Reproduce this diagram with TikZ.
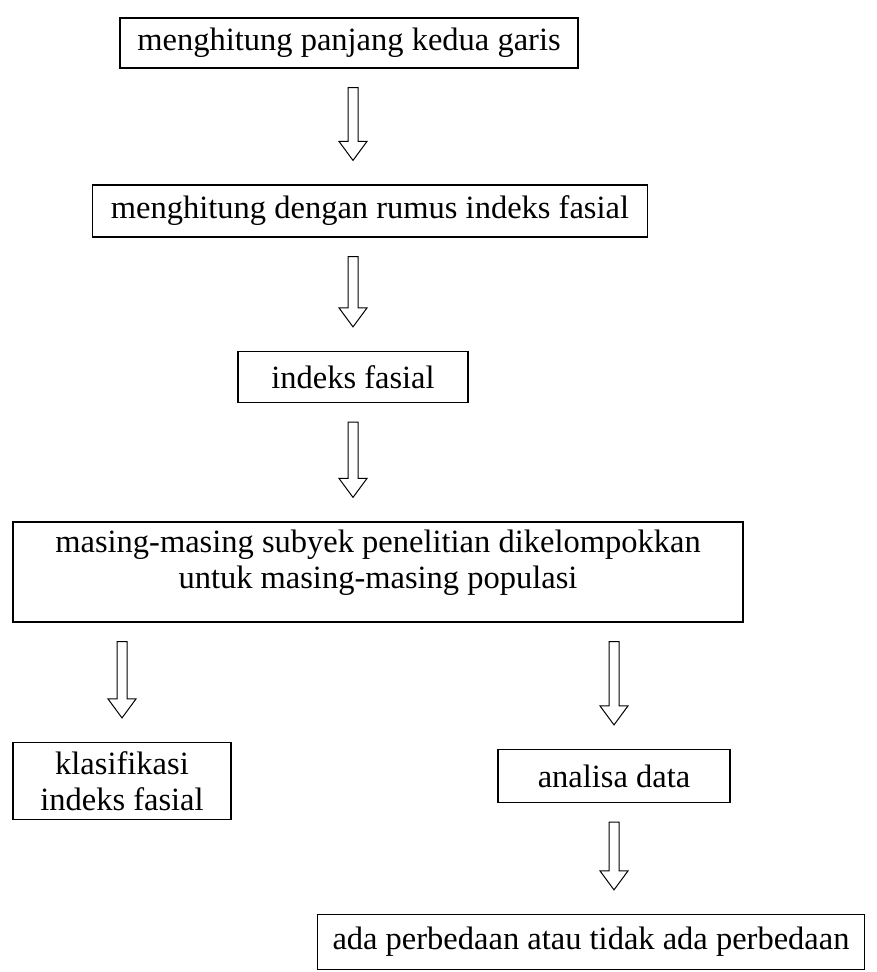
\documentclass[tikz,border=0pt]{standalone}
\usepackage{fontspec}
\setmainfont{Liberation Serif}
\usetikzlibrary{calc}

\tikzset{
  kotak/.style={draw, line width=1.2pt, inner sep=0pt, align=center,
    font=\fontsize{32.5}{36}\selectfont},
  blok/.style={draw, line width=1pt, line join=miter},
}

% panah tebal kosong: dari node #1 ke node #2, sumbu x dari node #3
\newcommand{\panah}[3]{%
  \draw[blok] let \p1=(#1.south), \p2=(#2.north), \p3=(#3.center) in
    (\x3-5pt,\y1-19pt) -- (\x3-5pt,\y2+43pt) -- (\x3-14pt,\y2+43pt) -- (\x3,\y2+24pt)
    -- (\x3+14pt,\y2+43pt) -- (\x3+5pt,\y2+43pt) -- (\x3+5pt,\y1-19pt) -- cycle;
}

\begin{document}
\begin{tikzpicture}[x=1pt, y=-1pt]
\useasboundingbox (0,0) rectangle (876,972);

\node[kotak, minimum width=458pt, minimum height=50pt] (garis) at (349,43) {menghitung panjang kedua garis};
\node[kotak, minimum width=555pt, minimum height=52pt] (rumus) at (370,211) {menghitung dengan rumus indeks fasial};
\node[kotak, minimum width=230pt, minimum height=51pt] (indeks) at (353,377) {indeks fasial};
\node[kotak, minimum width=730pt, minimum height=100pt, text depth=25pt] (kelompok) at (378,572) {masing-masing subyek penelitian dikelompokkan\\ untuk masing-masing populasi};

\node[kotak, minimum width=218pt, minimum height=77pt] (klasifikasi) at (122,781) {klasifikasi\\ indeks fasial};
\node[kotak, minimum width=232pt, minimum height=53pt] (analisa) at (614,776) {analisa data};
\node[kotak, minimum width=547pt, minimum height=55pt] (beda) at (591,942) {ada perbedaan atau tidak ada perbedaan};

\panah{garis}{rumus}{indeks}
\panah{rumus}{indeks}{indeks}
\panah{indeks}{kelompok}{indeks}
\panah{kelompok}{klasifikasi}{klasifikasi}
\panah{kelompok}{analisa}{analisa}
\panah{analisa}{beda}{analisa}

\end{tikzpicture}
\end{document}
